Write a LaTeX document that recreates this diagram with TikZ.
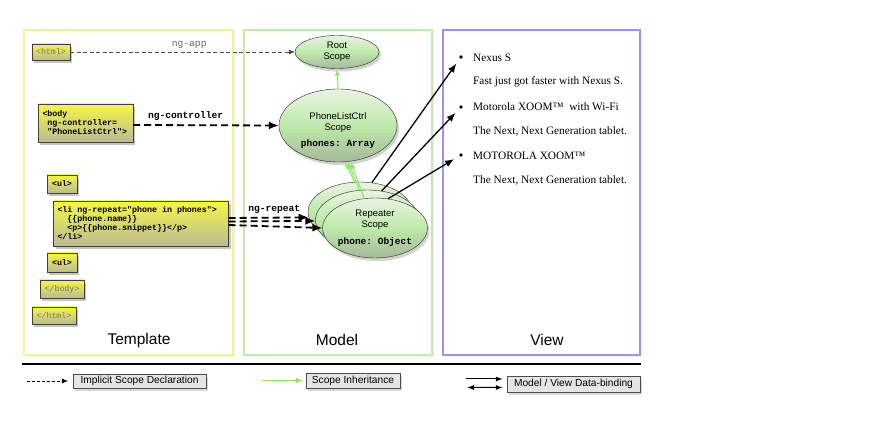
\documentclass[tikz,border=0pt]{standalone}
\usepackage{fontspec}
\setmainfont{Liberation Serif}
\setsansfont{Liberation Sans}
\setmonofont{Liberation Mono}
\usepackage{tikz}
\usetikzlibrary{arrows.meta,shapes.geometric,shadows,positioning}
\tikzset{>=Latex}
\definecolor{tagtop}{RGB}{246,246,72}
\definecolor{tagbot}{RGB}{186,186,150}
\definecolor{scopetop}{RGB}{232,244,224}
\definecolor{scopemid}{RGB}{190,234,170}
\definecolor{scopebot}{RGB}{165,184,155}
\definecolor{tplcol}{RGB}{242,242,150}
\definecolor{mdlcol}{RGB}{192,236,172}
\definecolor{viewcol}{RGB}{150,150,240}
\definecolor{inherit}{RGB}{140,236,96}
\tikzset{
    panel/.style={draw,line width=1.3pt,fill=white,minimum height=325pt,
        drop shadow={opacity=0.12,shadow xshift=2pt,shadow yshift=-2pt}},
    paneltitle/.style={font=\sffamily\fontsize{15.5}{18}\selectfont},
    tag/.style={draw=black!75,top color=tagtop,bottom color=tagbot,align=left,
        inner ysep=0pt,inner xsep=4pt,font=\ttfamily\bfseries\fontsize{8.3}{9}\selectfont,
        drop shadow={opacity=0.45,shadow xshift=2pt,shadow yshift=-3pt}},
    closetag/.style={tag,text=black!55,font=\ttfamily\fontsize{8.3}{9}\selectfont},
    scope/.style={ellipse,draw=black!85,top color=scopetop,bottom color=scopebot,
        middle color=scopemid,align=center,inner sep=0pt,
        font=\sffamily\fontsize{9.5}{11}\selectfont,
        drop shadow={opacity=0.35,shadow xshift=2pt,shadow yshift=-3pt}},
    keybox/.style={draw=black!70,fill=black!10,inner sep=0pt,
        font=\sffamily\fontsize{10.2}{11}\selectfont,
        drop shadow={opacity=0.3,shadow xshift=2pt,shadow yshift=-3pt}},
    item/.style={anchor=west,inner sep=0pt,font=\fontsize{11.3}{13}\selectfont},
    dot/.style={circle,fill=black,inner sep=0pt,minimum size=3.6pt},
    directive/.style={font=\ttfamily\bfseries\fontsize{9.6}{11}\selectfont},
}

\begin{document}
\begin{tikzpicture}[x=10pt,y=-10pt]
    \useasboundingbox (0,0) rectangle (87.1,43.5);
    % three columns
    \node[panel,draw=tplcol,minimum width=209pt] at (12.85,19.25) (tpl) {};
    \node[panel,draw=mdlcol,minimum width=188pt] at (33.8,19.25) (mdl) {};
    \node[panel,draw=viewcol,minimum width=197pt] at (54.15,19.25) (view) {};
    \node[paneltitle] at (13.9,34.0) (tpltitle) {Template};
    \node[paneltitle] at (33.7,34.0) (mdltitle) {Model};
    \node[paneltitle] at (54.7,34.0) (viewtitle) {View};
    % template
    \node[closetag,minimum width=38pt,minimum height=16pt] at (5.1,5.2) (html) {<html>};
    \node[tag,text width=86pt,inner xsep=4.5pt,minimum height=38pt] at (8.55,12.3) (body) {<body\\\hphantom{x}ng-controller=\\\hphantom{x}"PhoneListCtrl">};
    \node[tag,minimum width=30pt,minimum height=18pt] at (6.2,18.4) (ul) {<ul>};
    \node[tag,text width=167pt,minimum height=45pt] at (14.1,22.35) (li) {<li\hphantom{x}ng-repeat="phone\hphantom{x}in\hphantom{x}phones">\\\hphantom{xx}\{\{phone.name\}\}\\\hphantom{xx}<p>\{\{phone.snippet\}\}</p>\\</li>};
    \node[tag,minimum width=30pt,minimum height=19pt] at (6.2,26.25) (ulend) {<ul>};
    \node[closetag,minimum width=44pt,minimum height=18pt] at (6.2,28.9) (bodyend) {</body>};
    \node[closetag,minimum width=44pt,minimum height=17pt] at (5.4,31.55) (htmlend) {</html>};
    % model
    \node[scope,minimum width=84pt,minimum height=33pt] at (33.7,5.2) (root) {Root\\Scope};
    \node[scope,minimum width=118pt,minimum height=73pt] at (33.8,12.55) (plc) {\rule{0pt}{16pt}PhoneListCtrl\\Scope\\[5pt]\texttt{\bfseries phones: Array}};
    \node[scope,minimum width=104pt,minimum height=60pt] at (36.0,21.2) (rep1) {};
    \node[scope,minimum width=104pt,minimum height=60pt] at (36.75,22.0) (rep2) {};
    \node[scope,minimum width=104pt,minimum height=60pt] at (37.5,22.8) (rep3) {Repeater\\Scope\\[6pt]\texttt{\bfseries phone: Object}};
    % view
    \node[dot] at (46.1,5.7) (dot1) {};
    \node[dot] at (46.1,10.7) (dot2) {};
    \node[dot] at (46.1,15.5) (dot3) {};
    \node[item] at (47.3,5.75) (name1) {Nexus S};
    \node[item] at (47.3,8.2) (snip1) {Fast just got faster with Nexus S.};
    \node[item] at (47.3,10.7) (name2) {Motorola XOOM™\ \ with Wi-Fi};
    \node[item] at (47.3,13.15) (snip2) {The Next, Next Generation tablet.};
    \node[item] at (47.3,15.55) (name3) {MOTOROLA XOOM™};
    \node[item] at (47.3,18.0) (snip3) {The Next, Next Generation tablet.};
    % legend
    \draw[line width=1.6pt] (2.2,36.4) -- (64.1,36.4);
    \node[keybox,minimum width=133pt,minimum height=14pt] at (13.95,38.1) (key1) {Implicit Scope Declaration};
    \node[keybox,minimum width=94pt,minimum height=15pt] at (35.3,38.05) (key2) {Scope Inheritance};
    \node[keybox,minimum width=133pt,minimum height=16pt] at (57.35,38.4) (key3) {Model / View Data-binding};
    \coordinate (key1tail) at (2.7,38.1);
    \coordinate (key2tail) at (26.2,38.05);
    \coordinate (key3tail) at (46.6,37.9);
    \coordinate (key3back) at (46.7,38.75);
    % directives
    \path[->, thin, black!70, dash pattern=on 4pt off 2.5pt, >={Latex[length=6pt,width=5pt]}]
    (html) edge node[above, pos=0.53, font=\ttfamily\fontsize{9.6}{11}\selectfont, text=black!60] {ng-app} (root)
    ;
    \path[->, line width=1.8pt, dash pattern=on 7pt off 4pt, >={Latex[length=10pt,width=8pt]}]
    ([yshift=-2pt]body.east) edge node[above, pos=0.36, directive] {ng-controller} (plc.west)
    ([yshift=5.5pt]li.east) edge node[above, pos=0.57, directive] {ng-repeat} (rep1.186)
    ([yshift=2pt]li.east) edge (rep2.181)
    ([yshift=-1.5pt]li.east) edge (rep3.180)
    ;
    % inheritance
    \path[->, line width=1.1pt, inherit, >={Latex[length=7pt,width=5pt]}]
    (plc.north) edge (root.south)
    (rep1.100) edge ([xshift=-3pt]plc.-75)
    (rep2.105) edge (plc.-75)
    (rep3.110) edge ([xshift=3pt]plc.-75)
    ;
    % data-binding
    \path[->, line width=1.3pt, shorten >=6pt, >={Latex[length=9pt,width=7pt]}]
    (rep1.68) edge (dot1)
    (rep2.64) edge (dot2)
    (rep3.66) edge (dot3)
    ;
    % key connectors
    \path[->, thin, dash pattern=on 3pt off 2pt, shorten >=5pt, >={Latex[length=6pt,width=5pt]}]
    (key1tail) edge (key1.west)
    ;
    \path[->, line width=1.8pt, inherit, shorten >=3pt, >={Latex[length=7pt,width=6pt]}]
    (key2tail) edge (key2.west)
    ;
    \path[line width=1pt, shorten >=4pt, >={Latex[length=7pt,width=5pt]}]
    (key3tail) edge[->] ([yshift=5pt]key3.west)
    (key3back) edge[<->] ([yshift=-3.5pt]key3.west)
    ;
\end{tikzpicture}
\end{document}
